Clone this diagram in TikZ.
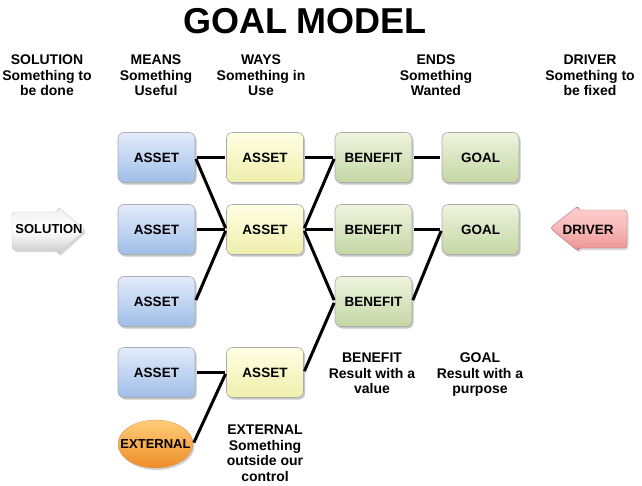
\documentclass[tikz,border=0pt]{standalone}
\usepackage{fontspec}
\setmainfont{Liberation Sans}
\usetikzlibrary{shadows,shapes.geometric}

\begin{document}
\begin{tikzpicture}[
    x=1pt, y=-1pt,
    box/.style={rectangle, rounded corners=6pt, minimum width=77pt, minimum height=50pt,
        inner sep=0pt, draw=gray!65, line width=0.6pt,
        drop shadow={shadow xshift=1.5pt, shadow yshift=-2pt, opacity=0.45},
        font=\fontsize{13.5}{15}\selectfont\bfseries},
    means/.style={box, top color=meansTop, bottom color=meansBot},
    ways/.style={box, top color=waysTop, bottom color=waysBot},
    benefit/.style={box, top color=endsTop, bottom color=endsBot},
    heading/.style={align=center, anchor=north, inner sep=0pt,
        font=\fontsize{14}{15.5}\selectfont\bfseries},
    link/.style={line width=3pt, black, shorten <=1.5pt, shorten >=1.5pt}
]
\definecolor{meansTop}{RGB}{226,236,251}
\definecolor{meansBot}{RGB}{160,190,232}
\definecolor{waysTop}{RGB}{255,255,228}
\definecolor{waysBot}{RGB}{238,238,172}
\definecolor{endsTop}{RGB}{238,244,222}
\definecolor{endsBot}{RGB}{196,214,164}
\definecolor{extTop}{RGB}{255,206,120}
\definecolor{extBot}{RGB}{238,140,40}
\definecolor{drvTop}{RGB}{255,208,208}
\definecolor{drvBot}{RGB}{236,146,146}

\useasboundingbox (0,0) rectangle (642,485);

% ======================
% Title and headings
% ======================
\node[font=\fontsize{36}{40}\selectfont\bfseries] (title) at (305,21.5) {GOAL MODEL};
\node[heading] (hSol)   at (47,55)  {SOLUTION\\Something to\\be done};
\node[heading] (hMeans) at (156,55) {MEANS\\Something\\Useful};
\node[heading] (hWays)  at (261,55) {WAYS\\Something in\\Use};
\node[heading] (hEnds)  at (436,55) {ENDS\\Something\\Wanted};
\node[heading] (hDrv)   at (590,55) {DRIVER\\Something to\\be fixed};

% ======================
% Means (assets)
% ======================
\node[means] (A1) at (156.5,157.5) {ASSET};
\node[means] (A2) at (156.5,229.5) {ASSET};
\node[means] (A3) at (156.5,301.5) {ASSET};
\node[means] (A4) at (156.5,372.5) {ASSET};
\node[ellipse, minimum width=75pt, minimum height=48pt, inner sep=0pt,
      draw=orange!70!black!60, line width=0.4pt, top color=extTop, bottom color=extBot,
      drop shadow={shadow xshift=1.5pt, shadow yshift=-2pt, opacity=0.35},
      font=\fontsize{13}{15}\selectfont\bfseries] (EXT) at (155.5,444) {\makebox[0pt]{EXTERNAL}};

% ======================
% Ways (assets in use)
% ======================
\node[ways] (W1) at (265,157.5) {ASSET};
\node[ways] (W2) at (265,229.5) {ASSET};
\node[ways] (W4) at (265,372.5) {ASSET};

% ======================
% Ends (benefits, goals)
% ======================
\node[benefit] (B1) at (373.5,157.5) {BENEFIT};
\node[benefit] (B2) at (373.5,229.5) {BENEFIT};
\node[benefit] (B3) at (373.5,301.5) {BENEFIT};
\node[benefit] (G1) at (480.5,157.5) {GOAL};
\node[benefit] (G2) at (480.5,229.5) {GOAL};

% ======================
% Connections
% ======================
\foreach \s/\t in {A1/W1, A1/W2, A2/W2, A3/W2, A4/W4, EXT/W4,
                   W1/B1, W2/B1, W2/B2, W2/B3, W4/B3,
                   B1/G1, B2/G2, B3/G2} {
    \draw[link] (\s.east) -- (\t.west);
}

% ======================
% Solution and driver arrows
% ======================
\path[rounded corners=3pt, draw=gray!45, line width=0.4pt,
      top color=gray!12, bottom color=gray!45, middle color=white,
      drop shadow={shadow xshift=1.5pt, shadow yshift=-2pt, opacity=0.3}]
    (12,212) -- (58,212) -- (58,207) -- (85,230) -- (58,255) -- (58,250) -- (12,250) -- cycle;
\node[font=\fontsize{13}{15}\selectfont\bfseries] (sol) at (49,229.5) {SOLUTION};

\path[rounded corners=3pt, draw=drvBot!80!black, line width=0.4pt,
      top color=drvTop, bottom color=drvBot, middle color=drvTop!60!drvBot,
      drop shadow={shadow xshift=1.5pt, shadow yshift=-2pt, opacity=0.3}]
    (550,228) -- (578,206) -- (578,210) -- (627,210) -- (627,248) -- (578,248) -- (578,251) -- cycle;
\node[font=\fontsize{13.5}{15}\selectfont\bfseries] (drv) at (588,229.5) {DRIVER};

% ======================
% Bottom labels
% ======================
\node[heading] (lBen)  at (372,353) {BENEFIT\\Result with a\\value};
\node[heading] (lGoal) at (480,353) {GOAL\\Result with a\\purpose};
\node[heading] (lExt)  at (265,425) {EXTERNAL\\Something\\outside our\\control};

\end{tikzpicture}
\end{document}
